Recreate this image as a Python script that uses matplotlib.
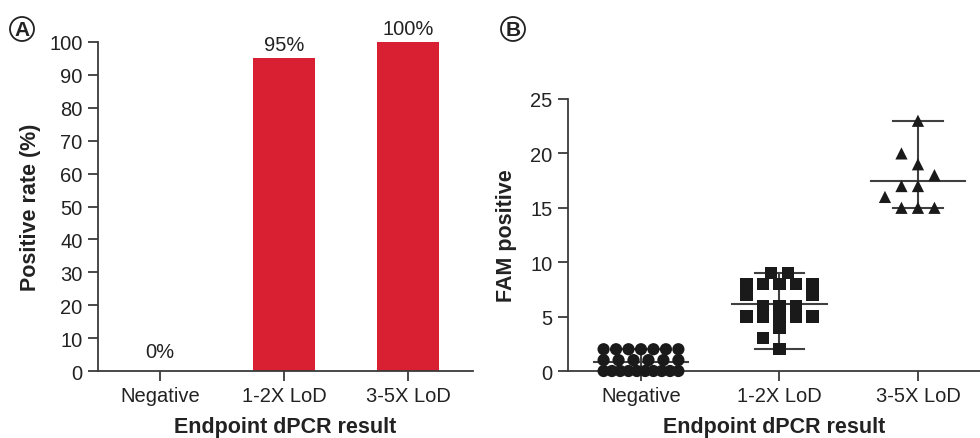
import numpy as np
import matplotlib
matplotlib.use("Agg")
import matplotlib.pyplot as plt

plt.rcParams['font.family'] = ['Liberation Sans', 'DejaVu Sans']

# ---- data ----
categories = ["Negative", "1-2X LoD", "3-5X LoD"]
positive_rate = [0, 95, 100]
rate_labels = ["0%", "95%", "100%"]

neg_values = [0] * 10 + [1] * 6 + [2] * 7
low_values = [9, 9, 8, 8, 8, 8, 8, 7, 7, 6, 6, 6, 5, 5, 5, 5, 5, 4, 3, 2]
high_values = [23, 20, 19, 18, 17, 17, 16, 15, 15, 15]
group_values = [neg_values, low_values, high_values]
group_markers = ["o", "s", "^"]

TXT = "#222222"
SPINE = "#3a3a3a"
RED = "#D92032"
TICK_FS = 14.5
LAB_FS = 15.5

fig = plt.figure(figsize=(9.8, 4.39), dpi=100)


def style(ax):
    for s in ["top", "right"]:
        ax.spines[s].set_visible(False)
    for s in ["left", "bottom"]:
        ax.spines[s].set_color(SPINE)
        ax.spines[s].set_linewidth(1.3)
    ax.tick_params(axis="both", direction="out", length=7, width=1.3,
                   color=SPINE, labelcolor=TXT, labelsize=TICK_FS, pad=4)


# ---- panel A ----
axA = fig.add_axes([98 / 980, 1 - 372 / 439, (473 - 98) / 980, (372 - 43) / 439])
x = np.arange(len(categories))
axA.bar(x, positive_rate, width=0.5, color=RED)
for xi, v, lab in zip(x, positive_rate, rate_labels):
    axA.annotate(lab, (xi, v), xytext=(0, 3 if v > 0 else 7), textcoords="offset points",
                 ha="center", va="bottom", fontsize=TICK_FS, color=TXT)
axA.set_xlim(-0.5, 2.52)
axA.set_ylim(0, 100)
axA.set_yticks(np.arange(0, 101, 10))
axA.set_xticks(x)
axA.set_xticklabels(categories)
style(axA)
axA.set_ylabel("Positive rate (%)", fontsize=LAB_FS, fontweight="bold", color=TXT, labelpad=6)
axA.set_xlabel("Endpoint dPCR result", fontsize=LAB_FS, fontweight="bold", color=TXT, labelpad=8)

# ---- panel B ----
x_left, x_right = -0.527, 2.448
axB = fig.add_axes([568 / 980, 1 - 372 / 439, (980 - 568) / 980, (372 - 100) / 439])
axB.set_xlim(x_left, x_right)
axB.set_ylim(0, 25)
px_x = (980 - 568) / (x_right - x_left)   # pixels per x unit
px_y = (372 - 100) / 25.0                 # pixels per y unit
step = 16.5 / px_x                        # horizontal slot, x units
cap = 0.27                                # max half spread, x units
dmin = 12.0                               # marker size, pixels


def swarm(vals):
    """Deterministic beeswarm offsets (x units) for a list of values."""
    vals = np.asarray(vals, dtype=float)
    offs = np.zeros(len(vals))
    placed = []
    for u in np.unique(vals):
        idx = np.where(vals == u)[0]
        row = []
        ok = True
        for _ in idx:
            found = None
            for k in range(0, 12):
                for sgn in ((0,) if k == 0 else (-1, 1)):
                    c = sgn * k * step
                    if abs(c) > cap + 1e-9:
                        continue
                    pts = placed + [(o, u) for o in row]
                    if all(np.hypot((c - o) * px_x, (u - v) * px_y) >= dmin for o, v in pts):
                        found = c
                        break
                if found is not None:
                    break
            if found is None:
                ok = False
                break
            row.append(found)
        n = len(idx)
        if not ok:
            half = min((n - 1) / 2 * step, cap)
            row = list(np.linspace(-half, half, n)) if n > 1 else [0.0]
        offs[idx] = row
        placed += [(o, u) for o in row]
    return offs


for gi, (vals, mk) in enumerate(zip(group_values, group_markers)):
    vals = np.array(vals, dtype=float)
    xs = gi + swarm(vals)
    mean = vals.mean()
    axB.plot([gi - 0.34, gi + 0.34], [mean, mean], color="#404040", lw=1.5, zorder=2)
    axB.plot([gi, gi], [vals.min(), vals.max()], color="#404040", lw=1.5, zorder=2)
    for yv in (vals.min(), vals.max()):
        axB.plot([gi - 0.18, gi + 0.18], [yv, yv], color="#404040", lw=1.5, zorder=2)
    sc = axB.scatter(xs, vals, marker=mk, s=8.8 ** 2, color="#1a1a1a",
                     edgecolor="none", zorder=3)
    sc.set_clip_on(False)

axB.set_yticks(np.arange(0, 26, 5))
axB.set_xticks(range(len(categories)))
axB.set_xticklabels(categories)
style(axB)
axB.set_ylabel("FAM positive", fontsize=LAB_FS, fontweight="bold", color=TXT, labelpad=10)
axB.set_xlabel("Endpoint dPCR result", fontsize=LAB_FS, fontweight="bold", color=TXT, labelpad=8)
for a in (axA, axB):
    a.patch.set_alpha(0)

# ---- panel letters ----
for lx, lab in [(22, "A"), (513, "B")]:
    fig.text(lx / 980, 1 - 30 / 439, lab, ha="center", va="center", fontsize=15,
             fontweight="bold", color=TXT,
             bbox=dict(boxstyle="circle,pad=0.12", fc="white", ec=TXT, lw=1.3))

fig.savefig("out.png", dpi=100)
